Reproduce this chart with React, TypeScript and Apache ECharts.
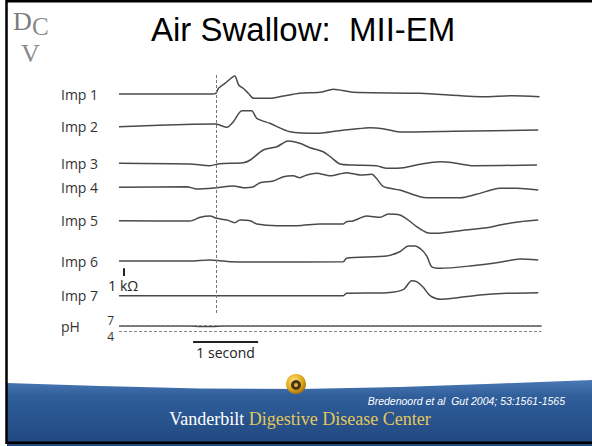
import React, { useEffect, useRef } from 'react';
import * as echarts from 'echarts';

// Channel names and baseline offsets (display units)
const CHANNELS = ['Imp 1', 'Imp 2', 'Imp 3', 'Imp 4', 'Imp 5', 'Imp 6', 'Imp 7'];
const BASELINES = [25.6, 22.33, 18.67, 16.27, 12.93, 8.9, 5.43];

// time (s) and deviation from baseline for each impedance channel
const IMP1_T = [0, 1.09, 1.4, 1.49, 1.53, 1.63, 1.78, 1.84, 1.91, 1.99, 2.07, 2.32, 2.53, 2.78, 3.09, 3.3, 3.6, 4.63, 5.6, 6.07, 6.47];
const IMP1_D = [0, 0, 0, 0.07, 0.57, 1.07, 1.8, 0.9, 0.57, 0.07, -0.43, -0.43, -0.2, 0.07, 0.17, 0.47, 0.17, 0.07, -0.27, -0.17, -0.27];

const IMP2_T = [0, 1.14, 1.49, 1.66, 1.76, 1.89, 2.04, 2.12, 2.32, 2.63, 3.09, 3.35, 3.6, 3.86, 4.06, 4.32, 5.14, 6.45];
const IMP2_D = [0, 0.24, 0.27, -0.06, 0.5, 1.6, 1.6, 0.84, 0.34, -0.5, -0.66, -0.43, -0.26, -0.1, -0.2, -0.53, -0.46, -0.33];

const IMP3_T = [0, 1.09, 1.4, 1.55, 1.91, 2.02, 2.22, 2.43, 2.6, 2.78, 2.94, 3.14, 3.25, 3.4, 3.6, 3.96, 4.12, 4.38, 4.63, 4.94, 5.14, 5.45, 6.43];
const IMP3_D = [0, -0.07, -0.24, -0.04, 0.06, 0.33, 1.33, 1.66, 2.23, 2.0, 1.56, 1.16, 0.66, -0.07, -0.17, -0.24, -0.5, -0.44, -0.1, 0.16, 0.06, -0.24, -0.17];

const IMP4_T = [0, 1.04, 1.2, 1.5, 1.76, 1.91, 2.07, 2.17, 2.37, 2.53, 2.68, 2.78, 2.89, 3.04, 3.25, 3.5, 3.71, 3.89, 3.96, 4.07, 4.32, 4.63, 4.74, 5.25, 5.5, 5.86, 6.12, 6.45];
const IMP4_D = [0, 0.06, -0.17, -0.04, 0.13, -0.04, 0.06, 0.46, 0.63, 1.06, 1.16, 0.96, 1.23, 1.4, 1.15, 1.46, 1.23, 1.3, 0.9, 0.06, -0.27, -0.94, -1.04, -1.04, -0.7, -0.1, -0.1, -0.27];

const IMP5_T = [0, 1.09, 1.25, 1.4, 1.5, 1.66, 1.78, 1.86, 2.02, 2.12, 2.43, 2.74, 3.09, 3.45, 3.5, 3.6, 3.81, 4.02, 4.14, 4.32, 4.45, 4.58, 4.74, 4.89, 5.25, 5.71, 5.86, 6.17, 6.45];
const IMP5_D = [0, -0.03, 0.34, 0.47, 0.24, 0.07, -0.2, 0.07, 0, -0.33, -0.5, -0.5, -0.33, -0.33, -0.1, -0.03, 0.47, 0.34, 0.67, 0.57, 0.07, -0.6, -1.2, -1.26, -1.0, -0.66, -0.43, -0.1, 0.07];

const IMP6_T = [0, 1.09, 1.4, 1.55, 1.71, 2.17, 3.45, 3.5, 4.12, 4.32, 4.45, 4.55, 4.66, 4.74, 4.81, 4.94, 5.4, 5.86, 6.17, 6.45];
const IMP6_D = [0, 0, 0.1, 0.03, -0.07, -0.1, -0.07, 0.27, 0.5, 0.93, 1.5, 1.5, 1.1, 0.43, -0.57, -0.73, -0.5, -0.13, 0.2, 0.1];

const IMP7_T = [0, 3.45, 3.5, 4.12, 4.38, 4.5, 4.58, 4.68, 4.76, 4.81, 4.94, 5.14, 5.55, 5.96, 6.45];
const IMP7_D = [0, 0, 0.24, 0.3, 0.64, 1.5, 1.4, 0.84, 0.17, -0.1, -0.36, -0.26, 0.07, 0.24, 0.3];

const IMP_T = [IMP1_T, IMP2_T, IMP3_T, IMP4_T, IMP5_T, IMP6_T, IMP7_T];
const IMP_D = [IMP1_D, IMP2_D, IMP3_D, IMP4_D, IMP5_D, IMP6_D, IMP7_D];

// pH channel
const PH_T = [0, 1.1, 1.25, 1.45, 1.6, 6.5];
const PH_V = [6.55, 6.55, 6.3, 6.35, 6.55, 6.55];
const PH_REF = [7, 4];

// annotations
const SWALLOW_T = 1.5;
const SWALLOW_SPAN = [27.5, 3.7];
const SECOND_BAR = [1.14, 2.14];
const SECOND_BAR_Y = 0.83;
const KOHM_BAR_T = 0.066;
const KOHM_BAR = [7.4, 8.17];

const TRACE = '#4a4a4a';
const FONT = '"Open Sans", "DejaVu Sans", sans-serif';
const SERIF = '"Liberation Serif", serif';

export default function App() {
  const ref = useRef<HTMLDivElement>(null);

  useEffect(() => {
    document.body.style.margin = '0';
    if (!ref.current) return;
    const chart = echarts.init(ref.current, null, { renderer: 'svg' });

    const impSeries = CHANNELS.map((name, i) => ({
      name,
      type: 'line',
      xAxisIndex: 0,
      yAxisIndex: 0,
      symbol: 'none',
      smooth: 0.25,
      lineStyle: { color: TRACE, width: 1.5 },
      data: IMP_T[i].map((t, j) => [t, BASELINES[i] + IMP_D[i][j]]),
      markLine:
        i === 6
          ? {
              silent: true,
              symbol: ['none', 'none'],
              animation: false,
              data: [
                [
                  {
                    coord: [SWALLOW_T, SWALLOW_SPAN[0]],
                    lineStyle: { color: '#777', width: 1, type: [3, 2] },
                    label: { show: false },
                  },
                  { coord: [SWALLOW_T, SWALLOW_SPAN[1]] },
                ],
                [
                  {
                    coord: [SECOND_BAR[0], SECOND_BAR_Y],
                    lineStyle: { color: '#222', width: 2, type: 'solid' },
                    label: {
                      show: true,
                      position: 'insideMiddleBottom',
                      formatter: '1 second',
                      distance: 4,
                      color: '#222',
                      fontSize: 14,
                      fontFamily: FONT,
                    },
                  },
                  { coord: [SECOND_BAR[1], SECOND_BAR_Y] },
                ],
                [
                  {
                    coord: [KOHM_BAR_T, KOHM_BAR[0]],
                    lineStyle: { color: '#222', width: 2, type: 'solid' },
                    label: {
                      show: true,
                      position: 'start',
                      formatter: '1 kΩ',
                      distance: 2,
                      color: '#222',
                      fontSize: 14,
                      fontFamily: FONT,
                    },
                  },
                  { coord: [KOHM_BAR_T, KOHM_BAR[1]] },
                ],
              ],
            }
          : undefined,
    }));

    const option: any = {
      animation: false,
      grid: [
        { left: 119, width: 422.5, top: 70, height: 280 },
        { left: 119, width: 422.5, top: 325, height: 6.7 },
      ],
      xAxis: [
        { type: 'value', gridIndex: 0, min: 0, max: 6.5, show: false },
        { type: 'value', gridIndex: 1, min: 0, max: 6.5, show: false },
      ],
      yAxis: [
        { type: 'value', gridIndex: 0, min: 0, max: 28, show: false },
        {
          type: 'value',
          gridIndex: 1,
          min: 4,
          max: 7,
          interval: 3,
          axisLine: { show: false },
          axisTick: { show: false },
          splitLine: { show: false },
          axisLabel: {
            margin: 5,
            fontSize: 12,
            fontFamily: FONT,
            color: '#333',
            formatter: (v: number) => (v === 7 ? '{hi|7}' : '{lo|4}'),
            rich: {
              hi: { padding: [0, 0, 10, 0], fontSize: 12, fontFamily: FONT, color: '#333' },
              lo: { padding: [10, 0, 0, 0], fontSize: 12, fontFamily: FONT, color: '#333' },
            },
          },
        },
      ],
      series: [
        ...impSeries,
        {
          name: 'pH',
          type: 'line',
          xAxisIndex: 1,
          yAxisIndex: 1,
          symbol: 'none',
          smooth: 0.25,
          lineStyle: { color: TRACE, width: 1.6 },
          data: PH_T.map((t, j) => [t, PH_V[j]]),
          markLine: {
            silent: true,
            symbol: ['none', 'none'],
            animation: false,
            label: { show: false },
            lineStyle: { color: '#888', width: 1, type: [3, 2] },
            data: PH_REF.map((v) => ({ yAxis: v })),
          },
        },
      ],
    };
    chart.setOption(option);

    const labels: any[] = CHANNELS.map((name, i) => {
      const p = chart.convertToPixel({ gridIndex: 0 }, [0, BASELINES[i]]) as number[];
      return {
        type: 'text',
        x: 61,
        y: p[1],
        style: { text: name, font: `14px ${FONT}`, fill: '#333', verticalAlign: 'middle', align: 'left' },
      };
    });
    const ph = chart.convertToPixel({ gridIndex: 1 }, [0, PH_V[0]]) as number[];
    labels.push({
      type: 'text',
      x: 61,
      y: ph[1],
      style: { text: 'pH', font: `14px ${FONT}`, fill: '#333', verticalAlign: 'middle', align: 'left' },
    });

    const decor: any[] = [
      {
        type: 'polygon',
        shape: {
          points: [
            [7, 446], [7, 383], [100, 386], [200, 388.5], [300, 389], [400, 387], [500, 383.5], [592, 380], [592, 446],
          ],
        },
        style: {
          fill: new echarts.graphic.LinearGradient(0, 0, 0, 1, [
            { offset: 0, color: '#4a79b5' },
            { offset: 0.25, color: '#2f5e9b' },
            { offset: 1, color: '#21477e' },
          ]),
        },
      },
      {
        type: 'circle',
        shape: { cx: 296, cy: 384, r: 10 },
        style: {
          fill: new echarts.graphic.RadialGradient(0.4, 0.35, 0.7, [
            { offset: 0, color: '#ffe680' },
            { offset: 0.6, color: '#e0a91c' },
            { offset: 1, color: '#9a6a0a' },
          ]),
        },
      },
      { type: 'circle', shape: { cx: 296, cy: 385, r: 5 }, style: { fill: '#4a3412' } },
      { type: 'circle', shape: { cx: 296, cy: 385, r: 2 }, style: { fill: '#d9b34a' } },
      {
        type: 'text',
        x: 565,
        y: 401,
        style: {
          text: 'Bredenoord et al  Gut 2004; 53:1561-1565',
          font: 'italic 10.5px "Liberation Sans", Arial, sans-serif',
          fill: '#ffffff',
          align: 'right',
          verticalAlign: 'middle',
        },
      },
      {
        type: 'text',
        x: 300,
        y: 419,
        style: {
          text: '{a|Vanderbilt}{b| Digestive Disease Center}',
          align: 'center',
          verticalAlign: 'middle',
          fill: '#ffffff',
          font: `18px ${SERIF}`,
          rich: {
            a: { font: `18px ${SERIF}`, fill: '#ffffff' },
            b: { font: `18px ${SERIF}`, fill: '#e3c75a' },
          },
        },
      },
      {
        type: 'rect',
        shape: { x: 6.5, y: 1.3, width: 600, height: 441.5 },
        style: { fill: 'none', stroke: '#000', lineWidth: 2.5 },
      },
      { type: 'text', x: 13, y: 8, style: { text: 'D', font: `26px ${SERIF}`, fill: '#7a7a7a' } },
      { type: 'text', x: 32, y: 14, style: { text: 'C', font: `25px ${SERIF}`, fill: '#8a8a8a' } },
      { type: 'text', x: 21, y: 40, style: { text: 'V', font: `26px ${SERIF}`, fill: '#8a8a8a' } },
      {
        type: 'text',
        x: 151,
        y: 29,
        style: {
          text: 'Air Swallow:  MII-EM',
          font: '33px "Liberation Sans", Arial, sans-serif',
          fill: '#000',
          verticalAlign: 'middle',
        },
      },
    ];

    chart.setOption({ graphic: [...decor, ...labels] });
    return () => chart.dispose();
  }, []);

  return <div ref={ref} style={{ width: 592, height: 446 }} />;
}
